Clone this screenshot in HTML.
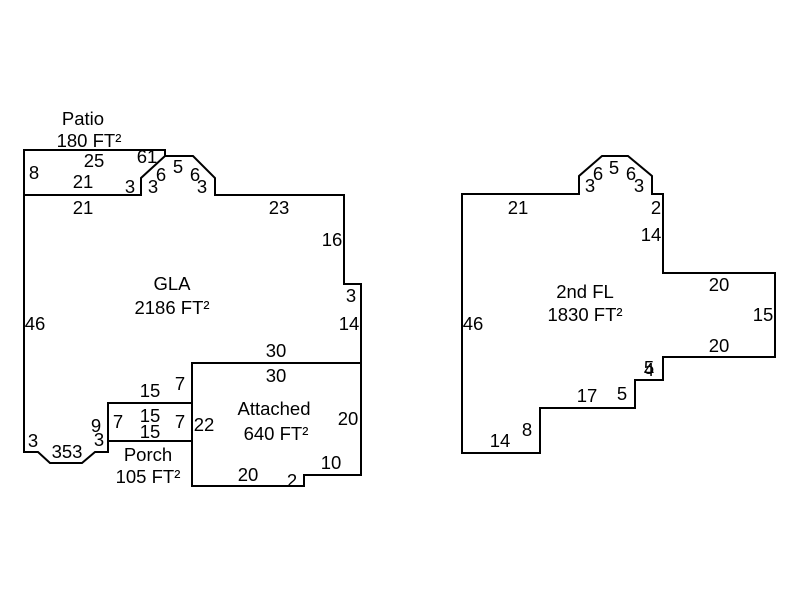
<!DOCTYPE html>
<html><head><meta charset="utf-8"><style>
html,body{margin:0;padding:0;background:#fff;}
svg text{font-family:"Liberation Sans",Arial,sans-serif;font-size:18.5px;fill:#000;text-anchor:middle;}
</style></head><body>
<svg width="800" height="600" viewBox="0 0 800 600" xmlns="http://www.w3.org/2000/svg">
<g fill="none" stroke="#000" stroke-width="2">
<polyline points="24,195 24,150 165,150 165,156"/>
<polygon points="24,195 141,195 141,178 165,156 193,156 215,178 215,195 344,195 344,284 361,284 361,363 192,363 192,403 108,403 108,452 95,452 82,463 50,463 38,452 24,452"/>
<polyline points="108,403 108,441 192,441 192,403"/>
<polyline points="192,363 192,486 304,486 304,475 361,475 361,363"/>
<polygon points="462,194 579,194 579,176 602,156 628,156 652,176 652,194 663,194 663,273 775,273 775,357 663,357 663,380 635,380 635,408 540,408 540,453 462,453"/>
</g>
<text x="83" y="125">Patio</text>
<text x="89" y="147">180 FT²</text>
<text x="94" y="167">25</text>
<text x="147" y="163">61</text>
<text x="34" y="179">8</text>
<text x="83" y="188">21</text>
<text x="130" y="193">3</text>
<text x="153" y="193">3</text>
<text x="161" y="181">6</text>
<text x="178" y="173">5</text>
<text x="195" y="181">6</text>
<text x="202" y="193">3</text>
<text x="83" y="214">21</text>
<text x="279" y="214">23</text>
<text x="332" y="246">16</text>
<text x="351" y="302">3</text>
<text x="349" y="330">14</text>
<text x="172" y="290">GLA</text>
<text x="172" y="314">2186 FT²</text>
<text x="35" y="330">46</text>
<text x="276" y="357">30</text>
<text x="276" y="382">30</text>
<text x="150" y="397">15</text>
<text x="180" y="390">7</text>
<text x="118" y="428">7</text>
<text x="150" y="422">15</text>
<text x="150" y="438">15</text>
<text x="180" y="428">7</text>
<text x="96" y="432">9</text>
<text x="99" y="446">3</text>
<text x="33" y="447">3</text>
<text x="67" y="458">353</text>
<text x="204" y="431">22</text>
<text x="274" y="415">Attached</text>
<text x="276" y="440">640 FT²</text>
<text x="348" y="425">20</text>
<text x="331" y="469">10</text>
<text x="248" y="481">20</text>
<text x="292" y="487">2</text>
<text x="148" y="461">Porch</text>
<text x="148" y="483">105 FT²</text>
<text x="590" y="192">3</text>
<text x="598" y="180">6</text>
<text x="614" y="174">5</text>
<text x="631" y="180">6</text>
<text x="639" y="192">3</text>
<text x="518" y="214">21</text>
<text x="656" y="214">2</text>
<text x="651" y="241">14</text>
<text x="585" y="298">2nd FL</text>
<text x="585" y="321">1830 FT²</text>
<text x="473" y="330">46</text>
<text x="719" y="291">20</text>
<text x="763" y="321">15</text>
<text x="719" y="352">20</text>
<text x="649" y="374">5</text>
<text x="649" y="376">4</text>
<text x="587" y="402">17</text>
<text x="622" y="400">5</text>
<text x="527" y="436">8</text>
<text x="500" y="447">14</text>
</svg>
</body></html>
